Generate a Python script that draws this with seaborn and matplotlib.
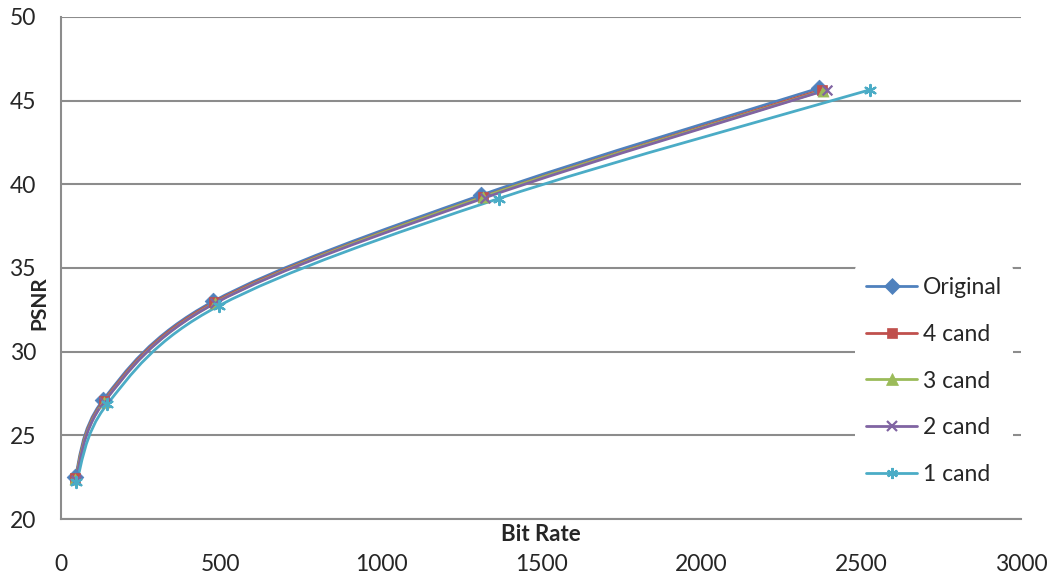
import numpy as np
import pandas as pd
import seaborn as sns
import matplotlib
matplotlib.use("Agg")
import matplotlib.pyplot as plt
from matplotlib.path import Path
from matplotlib.patches import PathPatch
from matplotlib.lines import Line2D
from matplotlib import font_manager

series_names = ["Original", "4 cand", "3 cand", "2 cand", "1 cand"]
bitrate_original = [44, 131, 475, 1312, 2369]
psnr_original = [22.5, 27.1, 33.0, 39.35, 45.75]
bitrate_4cand = [45, 133, 478, 1318, 2378]
psnr_4cand = [22.45, 27.05, 32.95, 39.25, 45.65]
bitrate_3cand = [45, 134, 480, 1320, 2382]
psnr_3cand = [22.4, 27.0, 32.9, 39.25, 45.6]
bitrate_2cand = [46, 135, 482, 1325, 2394]
psnr_2cand = [22.35, 27.0, 32.9, 39.2, 45.65]
bitrate_1cand = [48, 144, 494, 1368, 2528]
psnr_1cand = [22.2, 26.85, 32.75, 39.15, 45.65]

x_ticks = [0, 500, 1000, 1500, 2000, 2500, 3000]
y_ticks = [20, 25, 30, 35, 40, 45, 50]

colors = ["#4F81BD", "#C0504D", "#9BBB59", "#8064A2", "#4BACC6"]
markers = ["D", "s", "^", "x", (6, 2, 0)]
msizes = [8.5, 7, 8, 7, 8]

sns.set_theme(style="white")
avail = {f.name for f in font_manager.fontManager.ttflist}
main_font = "Lato" if "Lato" in avail else "DejaVu Sans"
plt.rcParams["font.family"] = [main_font, "DejaVu Sans"]

fig = plt.figure(figsize=(10.54, 5.76), dpi=100)
ax = fig.add_axes([61 / 1054, 1 - 519 / 576, 960 / 1054, 502 / 576])

xs_all = [bitrate_original, bitrate_4cand, bitrate_3cand, bitrate_2cand, bitrate_1cand]
ys_all = [psnr_original, psnr_4cand, psnr_3cand, psnr_2cand, psnr_1cand]

def smooth_path(xs, ys):
    # Catmull-Rom style cubic Bezier through the data points (Excel "smoothed line")
    P = np.column_stack([xs, ys]).astype(float)
    n = len(P)
    verts = [tuple(P[0])]
    codes = [Path.MOVETO]
    for i in range(n - 1):
        p0 = P[i - 1] if i > 0 else P[i]
        p1 = P[i]
        p2 = P[i + 1]
        p3 = P[i + 2] if i + 2 < n else P[i + 1]
        c1 = p1 + (p2 - p0) / 6.0
        c2 = p2 - (p3 - p1) / 6.0
        verts += [tuple(c1), tuple(c2), tuple(p2)]
        codes += [Path.CURVE4] * 3
    return Path(verts, codes)

handles = []
for name, xs, ys, c, m, ms in zip(series_names, xs_all, ys_all, colors, markers, msizes):
    patch = PathPatch(smooth_path(xs, ys), facecolor="none", edgecolor=c, lw=2.0, zorder=3)
    ax.add_patch(patch)
    df = pd.DataFrame({"x": xs, "y": ys})
    thin = m in ("x", (6, 2, 0))
    sns.scatterplot(data=df, x="x", y="y", marker=m, color=c, s=ms ** 2,
                    edgecolor=None if thin else c,
                    linewidth=1.6 if thin else 0.5,
                    ax=ax, zorder=4, legend=False)
    handles.append(Line2D([0], [0], color=c, lw=2.0, marker=m, markersize=ms,
                          markeredgewidth=1.6 if thin else 0.5,
                          markeredgecolor=c, markerfacecolor=c))

ax.set_xlim(0, 3000)
ax.set_ylim(20, 50)
ax.set_xticks(x_ticks)
ax.set_yticks(y_ticks)
ax.set_xticklabels([str(v) for v in x_ticks], fontsize=16.5)
ax.set_yticklabels([str(v) for v in y_ticks], fontsize=16.5)
ax.tick_params(axis="both", length=0)
ax.tick_params(axis="x", pad=25)
ax.tick_params(axis="y", pad=18)

ax.grid(axis="y", color="#8C8C8C", lw=1.5)
ax.grid(axis="x", visible=False)
ax.set_axisbelow(True)
for s in ["top", "right"]:
    ax.spines[s].set_visible(False)
for s in ["left", "bottom"]:
    ax.spines[s].set_color("#8C8C8C")
    ax.spines[s].set_linewidth(1.5)

ax.set_xlabel("Bit Rate", fontsize=16, fontweight="bold")
ax.xaxis.set_label_coords(0.5, -0.01)
ax.set_ylabel("PSNR", fontsize=15, fontweight="bold")
ax.yaxis.set_label_coords(-0.012, 0.43)

leg = ax.legend(handles, series_names, loc="center left",
                bbox_to_anchor=((855 - 61) / 960, (519 - 381) / 502),
                frameon=True, facecolor="white", edgecolor="none", framealpha=1,
                fontsize=16.5, handlelength=2.2, handletextpad=0.26,
                labelspacing=1.13, borderpad=0.5, borderaxespad=0)
leg.set_zorder(5)

fig.savefig("out.png", dpi=100)
